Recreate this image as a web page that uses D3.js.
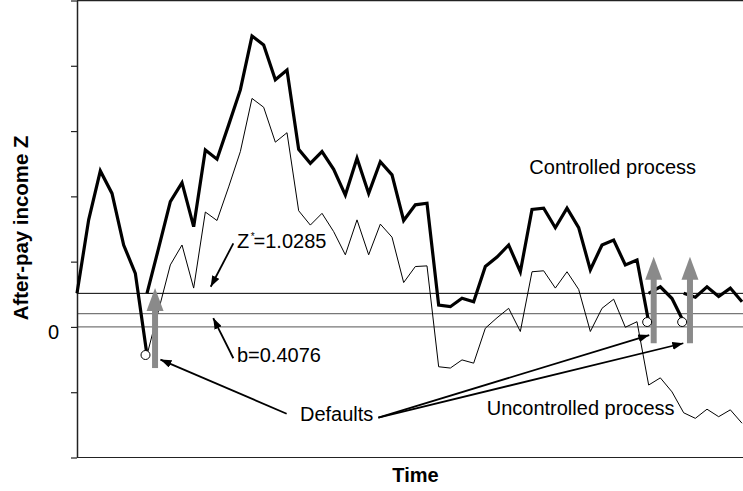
<!DOCTYPE html>
<html>
<head>
<meta charset="utf-8">
<script src="https://cdn.jsdelivr.net/npm/d3@7/dist/d3.min.js"></script>
<style>
    body { margin: 0; background: #fff; }
    svg { display: block; font-family: "Liberation Sans", Arial, sans-serif; }
</style>
</head>
<body>
<svg id="chart"></svg>
<script>
// time index 0..57
const timeSteps = d3.range(58);
// controlled process (value at each step; default steps hold the value at default)
const controlled = [1.03, 3.28, 4.78, 4.09, 2.51, 1.64, -0.86, 2.42, 3.84, 4.42,
    3.07, 5.42, 5.14, 6.19, 7.26, 8.91, 8.64, 7.57, 7.87, 5.44,
    5.01, 5.37, 4.83, 4.04, 5.17, 4.09, 5.06, 4.66, 3.26, 3.74,
    3.79, 0.67, 0.62, 0.88, 0.77, 1.85, 2.14, 2.51, 1.69, 3.60,
    3.64, 3.04, 3.64, 3.04, 1.75, 2.51, 2.66, 1.90, 2.05, 0.15,
    1.23, 0.87, 0.15, 0.91, 1.23, 0.93, 1.19, 0.77];
const uncontrolled = [1.03, 3.28, 4.78, 4.09, 2.51, 1.64, -0.86, 0.52, 1.90, 2.51,
    1.19, 3.52, 3.26, 4.29, 5.37, 7.00, 6.73, 5.66, 5.95, 3.56,
    3.12, 3.48, 2.92, 2.21, 3.28, 2.21, 3.15, 2.75, 1.36, 1.85,
    1.87, -1.22, -1.26, -1.01, -1.11, -0.04, 0.28, 0.57, -0.14, 1.69,
    1.72, 1.19, 1.69, 1.15, -0.14, 0.57, 0.85, -0.01, 0.16, -1.78,
    -1.56, -1.99, -2.63, -2.80, -2.52, -2.75, -2.54, -2.95];
const defaultSteps = [6, 49, 52];
const zStar = 1.0285;
const bLevel = 0.4076;
const yTicks = [-4, -2, 0, 2, 4, 6, 8, 10];
// grey reset arrows: [t, from, to]
const resetArrows = [[6.69, -1.26, 1.19], [49.43, -0.50, 2.15], [52.54, -0.50, 2.15]];

const W = 743, H = 491;
const svg = d3.select("#chart").attr("width", W).attr("height", H);

const x = d3.scaleLinear().domain([0, 57]).range([77, 742]);
const y = d3.scaleLinear().domain([-4, 10]).range([457.5, 0.5]);

// marker for black annotation arrows
svg.append("defs").append("marker")
    .attr("id", "head")
    .attr("viewBox", "0 -4 11 8")
    .attr("refX", 11).attr("refY", 0)
    .attr("markerWidth", 11).attr("markerHeight", 8)
    .attr("markerUnits", "userSpaceOnUse")
    .attr("orient", "auto")
    .append("path").attr("d", "M0,-4L11,0L0,4Z").attr("fill", "#000");

// reference lines
svg.append("line").attr("x1", 77).attr("x2", W).attr("y1", y(0)).attr("y2", y(0))
    .attr("stroke", "#777").attr("stroke-width", 1.2);
svg.append("line").attr("x1", 77).attr("x2", W).attr("y1", y(bLevel)).attr("y2", y(bLevel))
    .attr("stroke", "#777").attr("stroke-width", 1.2);
svg.append("line").attr("x1", 77).attr("x2", W).attr("y1", y(zStar)).attr("y2", y(zStar))
    .attr("stroke", "#000").attr("stroke-width", 1);

// frame
svg.append("line").attr("x1", 77).attr("x2", W).attr("y1", y(10)).attr("y2", y(10))
    .attr("stroke", "#222").attr("stroke-width", 1.5);
svg.append("line").attr("x1", 77).attr("x2", W).attr("y1", y(-4)).attr("y2", y(-4))
    .attr("stroke", "#222").attr("stroke-width", 1.2);

const yAxis = d3.axisLeft(y)
    .tickValues(yTicks)
    .tickSize(6)
    .tickSizeOuter(0)
    .tickPadding(12)
    .tickFormat(d => d === 0 ? "0" : "");
const gy = svg.append("g").attr("transform", "translate(77,0)").call(yAxis);
gy.select(".domain").attr("stroke", "#222").attr("stroke-width", 1.5);
gy.selectAll(".tick line").attr("stroke", "#222").attr("stroke-width", 1.2);
gy.selectAll(".tick text").attr("font-size", 20).attr("font-family", "Liberation Sans, Arial, sans-serif")
    .attr("fill", "#000").attr("dy", "0.58em");

// uncontrolled process
const line = d3.line().x(d => x(d[0])).y(d => y(d[1]));
svg.append("path")
    .datum(timeSteps.map(t => [t, uncontrolled[t]]))
    .attr("d", line)
    .attr("fill", "none").attr("stroke", "#000").attr("stroke-width", 1);

// controlled process, restarted at Z* after each default
const segments = [];
let seg = [];
timeSteps.forEach(t => {
    seg.push([t, controlled[t]]);
    if (defaultSteps.includes(t)) {
        segments.push(seg);
        seg = [[t, zStar]];
    }
});
segments.push(seg);
svg.selectAll(".ctrl").data(segments).enter().append("path")
    .attr("class", "ctrl")
    .attr("d", line)
    .attr("fill", "none").attr("stroke", "#000").attr("stroke-width", 3.2)
    .attr("stroke-linejoin", "miter");

// grey reset arrows
const headLen = 23, headW = 17, shaftW = 6;
resetArrows.forEach(([t, from, to]) => {
    const cx = x(t), yt = y(to), yb = y(from);
    svg.append("rect")
        .attr("x", cx - shaftW / 2).attr("y", yt + headLen - 1)
        .attr("width", shaftW).attr("height", yb - yt - headLen + 1)
        .attr("fill", "#8a8a8a");
    svg.append("path")
        .attr("d", `M${cx},${yt}L${cx + headW / 2},${yt + headLen}L${cx - headW / 2},${yt + headLen}Z`)
        .attr("fill", "#8a8a8a");
});

// default circles
svg.selectAll(".def").data(defaultSteps).enter().append("circle")
    .attr("class", "def")
    .attr("cx", d => x(d) - 1.5).attr("cy", d => y(controlled[d]))
    .attr("r", 4.5)
    .attr("fill", "#fff").attr("stroke", "#000").attr("stroke-width", 1);

// annotation arrows: [t1, v1, t2, v2]
const annoArrows = [
    [13.4, 2.56, 11.46, 1.23],
    [13.4, -0.96, 11.68, 0.27],
    [17.97, -2.66, 7.15, -1.00],
    [25.83, -2.78, 49.05, -0.25],
    [25.83, -2.78, 51.97, -0.50]
];
svg.selectAll(".anno").data(annoArrows).enter().append("line")
    .attr("class", "anno")
    .attr("x1", d => x(d[0])).attr("y1", d => y(d[1]))
    .attr("x2", d => x(d[2])).attr("y2", d => y(d[3]))
    .attr("stroke", "#000").attr("stroke-width", 1.8)
    .attr("marker-end", "url(#head)");

// labels
const zt = svg.append("text").attr("x", x(13.71)).attr("y", y(2.43)).attr("font-size", 20);
zt.append("tspan").text("Z");
zt.append("tspan").attr("font-size", 10).attr("dy", -8).attr("dx", 1.5).text("*");
zt.append("tspan").attr("dy", 8).attr("dx", -1).text("=1.0285");

svg.append("text").attr("x", x(13.71)).attr("y", y(-1.07)).attr("font-size", 20).text("b=0.4076");
svg.append("text").attr("x", x(19.11)).attr("y", y(-2.88)).attr("font-size", 20).text("Defaults");
svg.append("text").attr("x", x(38.77)).attr("y", y(4.69)).attr("font-size", 20).text("Controlled process");
svg.append("text").attr("x", x(35.12)).attr("y", y(-2.70)).attr("font-size", 20).text("Uncontrolled process");

// axis titles
svg.append("text")
    .attr("x", 415.5).attr("y", 482)
    .attr("text-anchor", "middle")
    .attr("font-size", 20).attr("font-weight", "bold")
    .text("Time");
svg.append("text")
    .attr("transform", "translate(28,228) rotate(-90)")
    .attr("text-anchor", "middle")
    .attr("font-size", 20.4).attr("font-weight", "bold")
    .text("After-pay income Z");
</script>
</body>
</html>
